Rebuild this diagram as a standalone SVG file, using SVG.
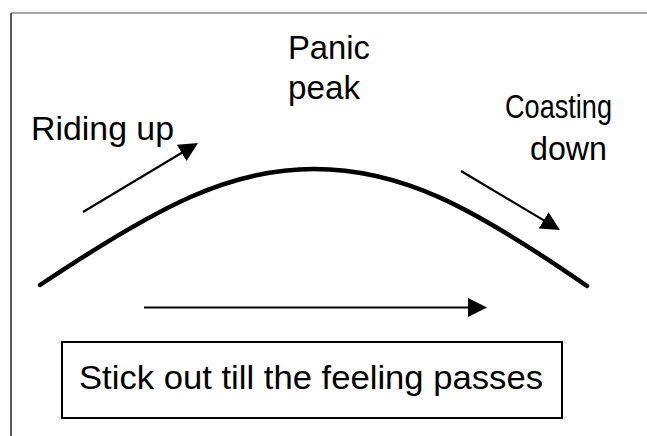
<svg xmlns="http://www.w3.org/2000/svg" width="647" height="436" viewBox="0 0 647 436">
<style>
text{font-family:"Liberation Sans",Arial,sans-serif;font-size:34px;fill:#000}
.arr{stroke:#000;stroke-width:2.2;fill:none;marker-end:url(#ah)}
</style>
<defs>
<marker id="ah" markerUnits="userSpaceOnUse" markerWidth="20" markerHeight="20" refX="9" refY="9.5" orient="auto">
<path d="M0,0 L19,9.5 L0,19 z" fill="#000"/>
</marker>
</defs>
<rect width="647" height="436" fill="#fff"/>
<g id="frame">
<line x1="11" y1="13" x2="647" y2="13" stroke="#888" stroke-width="1.6"/>
<line x1="11" y1="13" x2="11" y2="436" stroke="#333" stroke-width="1.6"/>
</g>
<g id="curve">
<path d="M40,285 C160,205 230,169 314,169 C400,169 470,205 587,286" fill="none" stroke="#000" stroke-width="4.5" stroke-linecap="round"/>
</g>
<g id="connectors">
<line class="arr" x1="83" y1="212" x2="189.4" y2="148.2"/>
<line class="arr" x1="461" y1="171" x2="551.4" y2="224.9"/>
<line class="arr" x1="144" y1="307.5" x2="477" y2="307.5"/>
</g>
<g id="label-riding"><text x="31" y="140" textLength="143" lengthAdjust="spacingAndGlyphs">Riding up</text></g>
<g id="label-peak"><text x="288" y="59" textLength="82" lengthAdjust="spacingAndGlyphs">Panic</text><text x="288" y="99" textLength="72" lengthAdjust="spacingAndGlyphs">peak</text></g>
<g id="label-coast"><text x="505" y="118" textLength="107" lengthAdjust="spacingAndGlyphs">Coasting</text><text x="530" y="160" textLength="77" lengthAdjust="spacingAndGlyphs">down</text></g>
<g id="box">
<rect x="62" y="342" width="500" height="76" fill="none" stroke="#000" stroke-width="2"/>
<text x="79" y="389" textLength="464" lengthAdjust="spacingAndGlyphs">Stick out till the feeling passes</text>
</g>
</svg>
